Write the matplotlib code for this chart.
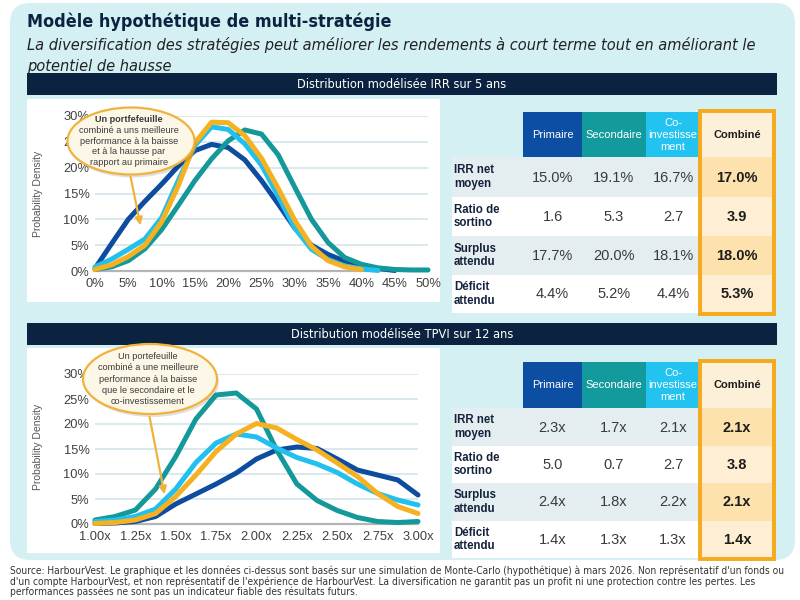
import os
import numpy as np
import matplotlib
matplotlib.use('Agg')
import matplotlib.pyplot as plt
from matplotlib import font_manager as fm
from matplotlib.patches import Rectangle, FancyBboxPatch, Ellipse, FancyArrowPatch

# ---- data -------------------------------------------------------------
series_names = ['Primaire', 'Secondaire', 'Co-investissement', 'Combiné']
series_colors = ['#0d4c9f', '#14989a', '#21c0ee', '#f5b120']

# IRR 5 ans (x en %, densité en %)
irr_x = [0, 2.5, 5, 7.5, 10, 12.5, 15, 17.5, 20, 22.5, 25, 27.5, 30,
         32.5, 35, 37.5, 40, 42.5, 45, 47.5, 50]
irr_primaire = [0.5, 5.3, 10.0, 13.5, 16.8, 20.3, 23.3, 24.5, 23.9, 21.5, 17.5,
                13.0, 8.3, 5.0, 3.2, 1.9, 1.1, 0.5, 0.1, None, None]
irr_secondaire = [0.3, 0.8, 2.0, 4.3, 8.0, 12.7, 17.5, 21.7, 25.2, 27.3, 26.5,
                  22.5, 16.2, 10.0, 5.5, 2.6, 1.3, 0.6, 0.3, 0.2, 0.2]
irr_coinv = [0.8, 2.3, 4.2, 6.2, 10.3, 17.5, 24.3, 27.9, 27.4, 24.6, 20.5,
             14.5, 8.3, 4.2, 2.2, 1.0, 0.4, 0.1, None, None, None]
irr_combine = [0.3, 1.2, 2.8, 5.0, 9.5, 16.5, 24.8, 28.8, 28.7, 26.2, 21.8,
               16.0, 9.8, 4.8, 2.0, 0.8, 0.3, None, None, None, None]

# TPVI 12 ans
tpvi_x = [1.0, 1.125, 1.25, 1.375, 1.5, 1.625, 1.75, 1.875, 2.0, 2.125, 2.25,
          2.375, 2.5, 2.625, 2.75, 2.875, 3.0]
tpvi_primaire = [0.1, 0.2, 0.5, 1.5, 4.0, 6.0, 8.0, 10.2, 13.0, 14.8, 15.4,
                 15.1, 13.0, 10.8, 9.8, 8.8, 5.8]
tpvi_secondaire = [0.8, 1.5, 2.8, 7.0, 13.5, 21.0, 25.8, 26.2, 23.0, 14.8, 8.0,
                   4.7, 2.7, 1.3, 0.5, 0.3, 0.5]
tpvi_coinv = [0.5, 0.8, 1.5, 3.0, 7.0, 12.3, 16.2, 18.0, 17.4, 15.2, 13.3,
              12.0, 10.3, 8.0, 6.1, 4.8, 3.8]
tpvi_combine = [0.1, 0.3, 0.8, 2.1, 5.5, 9.8, 14.5, 18.0, 20.1, 19.2, 16.9,
                14.8, 12.2, 9.5, 6.1, 3.5, 2.1]

irr_ticks = [0, 5, 10, 15, 20, 25, 30, 35, 40, 45, 50]
tpvi_ticks = [1.0, 1.25, 1.5, 1.75, 2.0, 2.25, 2.5, 2.75, 3.0]
density_ticks = [0, 5, 10, 15, 20, 25, 30]

table_cols = ['Primaire', 'Secondaire', 'Co-\ninvestisse\nment', 'Combiné']
table_rows = ['IRR net\nmoyen', 'Ratio de\nsortino', 'Surplus\nattendu', 'Déficit\nattendu']
irr_table = [['15.0%', '19.1%', '16.7%', '17.0%'],
             ['1.6', '5.3', '2.7', '3.9'],
             ['17.7%', '20.0%', '18.1%', '18.0%'],
             ['4.4%', '5.2%', '4.4%', '5.3%']]
tpvi_table = [['2.3x', '1.7x', '2.1x', '2.1x'],
              ['5.0', '0.7', '2.7', '3.8'],
              ['2.4x', '1.8x', '2.2x', '2.1x'],
              ['1.4x', '1.3x', '1.3x', '1.4x']]

title = 'Modèle hypothétique de multi-stratégie'
subtitle = ['La diversification des stratégies peut améliorer les rendements à court terme tout en améliorant le',
            'potentiel de hausse']
bar_titles = ['Distribution modélisée IRR sur 5 ans', 'Distribution modélisée TPVI sur 12 ans']
callout_top = ['Un portfefeuille', 'combiné a uns meilleure', 'performance à la baisse',
               'et à la hausse par', 'rapport au primaire']
callout_bottom = ['Un portefeuille', 'combiné a une meilleure', 'performance à la baisse',
                  'que le secondaire et le', 'co-investissement']
footer = ["Source: HarbourVest. Le graphique et les données ci-dessus sont basés sur une simulation de Monte-Carlo (hypothétique) à mars 2026. Non représentatif d'un fonds ou",
          "d'un compte HarbourVest, et non représentatif de l'expérience de HarbourVest. La diversification ne garantit pas un profit ni une protection contre les pertes. Les",
          "performances passées ne sont pas un indicateur fiable des résultats futurs."]

# ---- fonts ------------------------------------------------------------
def cond_font(fname, size, **fallback):
    for f in fm.fontManager.ttflist:
        if os.path.basename(f.fname) == fname:
            return fm.FontProperties(fname=f.fname, size=size)
    return fm.FontProperties(family='DejaVu Sans', size=size, **fallback)

SANS = 'Liberation Sans'
NAVY = '#0b2341'
ORANGE = '#f6a91b'

# ---- figure helpers ---------------------------------------------------
W, H = 800, 600
fig = plt.figure(figsize=(8, 6), dpi=100)


def box(x0, y0, x1, y1, **kw):
    p = Rectangle((x0 / W, 1 - y1 / H), (x1 - x0) / W, (y1 - y0) / H,
                  transform=fig.transFigure, **kw)
    fig.add_artist(p)
    return p


def txt(x, y, s, **kw):
    return fig.text(x / W, 1 - y / H, s, **kw)


# background panel
bg = FancyBboxPatch((10 / 100, (600 - 560) / 100), 785 / 100, 557 / 100,
                    boxstyle='round,pad=0,rounding_size=0.2',
                    transform=fig.dpi_scale_trans, fc='#d5f0f3', ec='none', zorder=-3)
fig.add_artist(bg)

txt(27, 22, title, color=NAVY, va='center', ha='left',
    fontproperties=cond_font('DejaVuSansCondensed-Bold.ttf', 12.9, weight='bold'))
for i, line in enumerate(subtitle):
    txt(27, 45 + i * 21, line, color='#222222', va='center', ha='left',
        fontproperties=cond_font('DejaVuSansCondensed-Oblique.ttf', 11.7, style='italic'))

# header bars
for (y0, y1), label in zip([(73, 95), (323, 345)], bar_titles):
    box(27, y0, 777, y1, fc=NAVY, ec='none', zorder=-1)
    txt(402, (y0 + y1) / 2 + 0.5, label, color='white', ha='center', va='center',
        fontproperties=cond_font('DejaVuSansCondensed.ttf', 9.2))

# white chart panels
box(27, 99, 440, 302, fc='white', ec='none', zorder=-2)
box(27, 348, 440, 553, fc='white', ec='none', zorder=-2)


def density_axes(rect_px, x, ys, xticks, xfmt, xlim):
    l, t, r, b = rect_px
    ax = fig.add_axes([l / W, 1 - b / H, (r - l) / W, (b - t) / H])
    ax.set_facecolor('none')
    for y, c in zip(ys, series_colors):
        xa = [xv for xv, yv in zip(x, y) if yv is not None]
        ya = [yv for yv in y if yv is not None]
        ax.plot(xa, ya, color=c, lw=3.6, solid_capstyle='round',
                solid_joinstyle='round', clip_on=False, zorder=3)
    ax.set_xlim(*xlim)
    ax.set_ylim(0, 30)
    ax.set_yticks(density_ticks)
    ax.set_yticklabels(['%d%%' % v for v in density_ticks])
    ax.set_xticks(xticks)
    ax.set_xticklabels([xfmt(v) for v in xticks])
    ax.yaxis.grid(True, color='#d3e5ea', lw=1.2)
    ax.set_axisbelow(True)
    for s in ['top', 'right', 'left']:
        ax.spines[s].set_visible(False)
    ax.spines['bottom'].set_color('#b5b5b5')
    ax.spines['bottom'].set_linewidth(1.6)
    ax.tick_params(length=0, labelsize=9.3, labelcolor='#404040')
    ax.tick_params(axis='y', pad=4)
    ax.tick_params(axis='x', pad=5)
    for lab in ax.get_xticklabels() + ax.get_yticklabels():
        lab.set_family(SANS)
    return ax


density_axes((95, 116, 428, 271), irr_x,
             [irr_primaire, irr_secondaire, irr_coinv, irr_combine],
             irr_ticks, lambda v: '%d%%' % v, (0, 50))
density_axes((95, 374, 418, 524), tpvi_x,
             [tpvi_primaire, tpvi_secondaire, tpvi_coinv, tpvi_combine],
             tpvi_ticks, lambda v: '%.2fx' % v, (1.0, 3.0))

for yc in (194, 447):
    txt(38, yc, 'Probability Density', rotation=90, ha='center', va='center',
        fontsize=7.5, color='#555555', family=SANS)


# callouts
def callout(cx, cy, w, h, lines, bold_first, spacing, tail, head):
    sh = Ellipse(((cx + 2) / W, 1 - (cy + 3) / H), w / W, h / H,
                 transform=fig.transFigure, fc='#000000', alpha=0.12, ec='none', zorder=9)
    fig.add_artist(sh)
    el = Ellipse((cx / W, 1 - cy / H), w / W, h / H, transform=fig.transFigure,
                 fc='#fdf7e8', ec='#efb33d', lw=1.6, zorder=10)
    fig.add_artist(el)
    n = len(lines)
    for i, line in enumerate(lines):
        y = cy + (i - (n - 1) / 2) * spacing
        txt(cx - 2, y, line, ha='center', va='center', fontsize=6.6,
            color='#3a3a3a', family=SANS,
            weight='bold' if (bold_first and i == 0) else 'normal', zorder=11)
    arr = FancyArrowPatch((tail[0] / W, 1 - tail[1] / H), (head[0] / W, 1 - head[1] / H),
                          transform=fig.transFigure, arrowstyle='-|>', mutation_scale=11,
                          color='#efb33d', lw=1.6, zorder=10)
    fig.add_artist(arr)


callout(131, 141, 127, 67, callout_top, True, 10.7, (130, 174), (141, 228))
callout(150, 379, 134, 70, callout_bottom, False, 11.2, (149, 414), (165, 497))

# tables
col_edges = [452, 523, 582, 646, 700, 774]
head_colors = ['#0b4ea2', '#139a9d', '#22c3f0', '#fdf0d8']


def draw_table(head_top, edges_y, values):
    head_bot = edges_y[0]
    for j, name in enumerate(table_cols):
        x0, x1 = col_edges[j + 1], col_edges[j + 2]
        box(x0, head_top, x1, head_bot, fc=head_colors[j], ec='none', zorder=1)
        last = j == 3
        txt((x0 + x1) / 2, (head_top + head_bot) / 2, name, ha='center', va='center',
            fontsize=8, family=SANS, linespacing=1.25,
            color='#1d1d1d' if last else 'white', weight='bold' if last else 'normal', zorder=2)
    for i, row in enumerate(table_rows):
        y0, y1 = edges_y[i], edges_y[i + 1]
        shade = i % 2 == 0
        box(col_edges[0], y0, col_edges[4], y1, fc='#e4eef1' if shade else 'white',
            ec='none', zorder=1)
        box(col_edges[4], y0, col_edges[5], y1, fc='#fde2ad' if shade else '#feefd4',
            ec='none', zorder=1)
        yc = (y0 + y1) / 2
        txt(col_edges[0] + 2, yc, row, ha='left', va='center', fontsize=8.3,
            family=SANS, weight='bold', color='#14233d', linespacing=1.15, zorder=2)
        for j, v in enumerate(values[i]):
            last = j == 3
            txt((col_edges[j + 1] + col_edges[j + 2]) / 2, yc + 0.5, v, ha='center',
                va='center', fontsize=10.5, family=SANS,
                weight='bold' if last else 'normal',
                color='#1d1d1d' if last else '#3a3a3a', zorder=2)
    box(col_edges[4], head_top - 1, col_edges[5], edges_y[-1] + 1, fc='none',
        ec=ORANGE, lw=2.8, zorder=3)


draw_table(112, [157, 197, 236, 275, 313], irr_table)
draw_table(362, [408, 446, 483, 521, 558], tpvi_table)

# footer
for i, line in enumerate(footer):
    txt(10, 571 + i * 10.5, line, ha='left', va='center', color='#333333',
        fontproperties=cond_font('DejaVuSansCondensed.ttf', 7.3))

fig.savefig('out.png', dpi=100)
